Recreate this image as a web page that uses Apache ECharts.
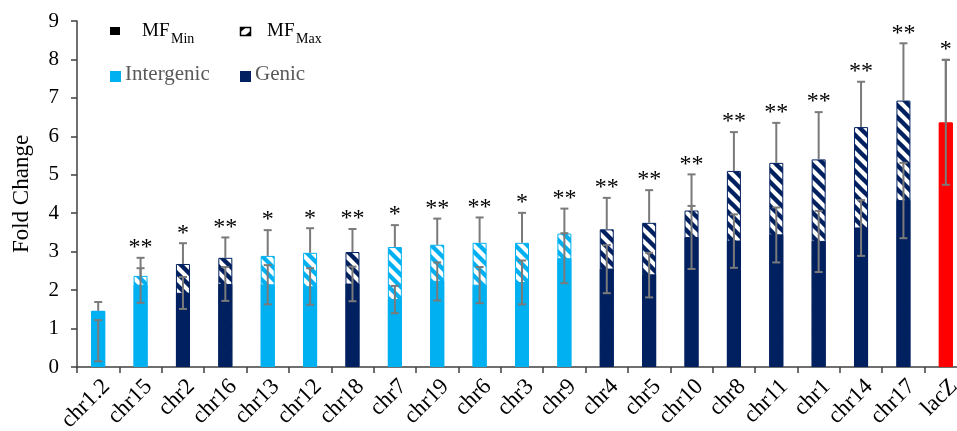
<!DOCTYPE html>
<html>
<head>
<meta charset="utf-8">
<script src="https://cdn.jsdelivr.net/npm/echarts@6/dist/echarts.min.js"></script>
<style>
  html, body { margin: 0; padding: 0; background: #fff; }
  #chart { width: 957px; height: 431px; }
</style>
</head>
<body>
<div id="chart"></div>
<script>
// Insertion sites, ordered by mean fold change
const categories = ['chr1.2','chr15','chr2','chr16','chr13','chr12','chr18','chr7','chr19','chr6','chr3','chr9','chr4','chr5','chr10','chr8','chr11','chr1','chr14','chr17','lacZ'];
const siteType = ['Intergenic','Intergenic','Genic','Genic','Intergenic','Intergenic','Genic','Intergenic','Intergenic','Intergenic','Intergenic','Intergenic','Genic','Genic','Genic','Genic','Genic','Genic','Genic','Genic','Control'];

// Fold change at maximal and minimal MF
const mfMax = [1.46, 2.37, 2.68, 2.84, 2.89, 2.97, 2.99, 3.12, 3.18, 3.23, 3.23, 3.47, 3.58, 3.75, 4.07, 5.10, 5.31, 5.40, 6.24, 6.93, 6.36];
const mfMin = [1.46, 2.14, 1.93, 2.16, 2.15, 2.10, 2.17, 1.77, 2.24, 2.14, 2.21, 2.83, 2.56, 2.41, 3.38, 3.29, 3.45, 3.28, 3.63, 4.34, 6.36];

// Error bars: upper limit of MF_Max, and range around MF_Min
const mfMaxUpper = [1.69, 2.84, 3.22, 3.37, 3.56, 3.61, 3.59, 3.69, 3.86, 3.89, 4.01, 4.12, 4.40, 4.60, 5.01, 6.11, 6.35, 6.63, 7.42, 8.42, 7.99];
const mfMinLower = [0.15, 1.67, 1.51, 1.72, 1.63, 1.62, 1.71, 1.40, 1.73, 1.66, 1.63, 2.18, 1.92, 1.81, 2.55, 2.58, 2.72, 2.47, 2.89, 3.35, 4.74];
const mfMinUpper = [1.22, 2.57, 2.34, 2.60, 2.65, 2.57, 2.61, 2.11, 2.72, 2.60, 2.77, 3.48, 3.17, 2.97, 4.19, 3.97, 4.15, 4.06, 4.34, 5.31, 7.99];

// Significance marks
const significance = ['', '**', '*', '**', '*', '*', '**', '*', '**', '**', '*', '**', '**', '**', '**', '**', '**', '**', '**', '**', '*'];

const yTicks = [0, 1, 2, 3, 4, 5, 6, 7, 8, 9];

const COLORS = { Intergenic: '#00B0F0', Genic: '#002060', Control: '#FF0000' };
const SERIF = "'Liberation Serif', 'Times New Roman', serif";

// Diagonal stripe tile used for the hatched (MF_Max) part of each bar
function stripeTile(bg, fg, size, lw) {
  const c = document.createElement('canvas');
  c.width = size; c.height = size;
  const ctx = c.getContext('2d');
  ctx.fillStyle = bg;
  ctx.fillRect(0, 0, size, size);
  ctx.strokeStyle = fg;
  ctx.lineWidth = lw;
  ctx.lineCap = 'square';
  for (let k = -1; k <= 1; k++) {
    ctx.beginPath();
    ctx.moveTo(k * size, 0);
    ctx.lineTo(k * size + size, size);
    ctx.stroke();
  }
  return c;
}
const hatchFill = {
  Intergenic: { image: stripeTile('#00B0F0', '#ffffff', 12, 4.2), repeat: 'repeat' },
  Genic: { image: stripeTile('#ffffff', '#002060', 12, 4.4), repeat: 'repeat' },
  Control: COLORS.Control
};

const maxData = mfMax.map((v, i) => ({
  value: v,
  itemStyle: { color: hatchFill[siteType[i]], borderColor: COLORS[siteType[i]], borderWidth: 1 }
}));
const minData = mfMin.map((v, i) => ({
  value: v,
  itemStyle: { color: COLORS[siteType[i]], borderColor: COLORS[siteType[i]], borderWidth: 1 }
}));
const errData = categories.map((c, i) => [i, mfMax[i], mfMaxUpper[i], mfMinLower[i], mfMinUpper[i]]);

const ERR_COLOR = '#7a7a7a';
function renderErr(params, api) {
  const i = api.value(0);
  const x = api.coord([i, 0])[0];
  const yBar = api.coord([i, api.value(1)])[1];
  const yTop = api.coord([i, api.value(2)])[1];
  const yLo = api.coord([i, api.value(3)])[1];
  const yHi = api.coord([i, api.value(4)])[1];
  const cap = 4;
  const ls = { stroke: ERR_COLOR, lineWidth: 2 };
  const seg = (x1, y1, x2, y2) => ({ type: 'line', shape: { x1, y1, x2, y2 }, style: ls });
  return {
    type: 'group',
    children: [
      seg(x, yBar, x, yTop),
      seg(x - cap, yTop, x + cap, yTop),
      seg(x, yLo, x, yHi),
      seg(x - cap, yLo, x + cap, yLo),
      seg(x - cap, yHi, x + cap, yHi),
      {
        type: 'text',
        style: {
          x: x, y: yTop - 10,
          text: significance[i],
          fill: '#000',
          font: '24px ' + SERIF,
          align: 'center',
          verticalAlign: 'middle'
        }
      }
    ]
  };
}

const chart = echarts.init(document.getElementById('chart'), null, { renderer: 'canvas' });

const legendGraphics = [
  { type: 'rect', shape: { x: 110, y: 27, width: 10, height: 8 }, style: { fill: '#000' } },
  { type: 'text', style: { x: 142, y: 41, text: 'MF', font: '19px ' + SERIF, fill: '#000', verticalAlign: 'bottom' } },
  { type: 'text', style: { x: 171, y: 46, text: 'Min', font: '14px ' + SERIF, fill: '#000', verticalAlign: 'bottom' } },
  { type: 'rect', shape: { x: 240.5, y: 27.5, width: 10, height: 8 }, style: { fill: '#fff', stroke: '#000', lineWidth: 1.5 } },
  { type: 'polygon', shape: { points: [[240.5, 27.5], [246, 27.5], [240.5, 32]] }, style: { fill: '#000' } },
  { type: 'polygon', shape: { points: [[250.5, 31], [250.5, 35.5], [245, 35.5]] }, style: { fill: '#000' } },
  { type: 'text', style: { x: 267, y: 41, text: 'MF', font: '19px ' + SERIF, fill: '#000', verticalAlign: 'bottom' } },
  { type: 'text', style: { x: 296, y: 46, text: 'Max', font: '14px ' + SERIF, fill: '#000', verticalAlign: 'bottom' } },
  { type: 'rect', shape: { x: 110, y: 71, width: 11, height: 11 }, style: { fill: COLORS.Intergenic } },
  { type: 'text', style: { x: 125, y: 85, text: 'Intergenic', font: '21px ' + SERIF, fill: '#595959', verticalAlign: 'bottom' } },
  { type: 'rect', shape: { x: 240, y: 71, width: 11, height: 11 }, style: { fill: COLORS.Genic } },
  { type: 'text', style: { x: 255, y: 85, text: 'Genic', font: '21px ' + SERIF, fill: '#595959', verticalAlign: 'bottom' } }
];

chart.setOption({
  animation: false,
  backgroundColor: '#fff',
  grid: { left: 77, width: 890, top: 21, bottom: 64, containLabel: false, outerBoundsMode: 'none' },
  xAxis: {
    type: 'category',
    data: categories,
    axisLine: { lineStyle: { color: '#404040', width: 1.5 } },
    axisTick: { show: true, length: 6, lineStyle: { color: '#404040', width: 1.5 } },
    axisLabel: {
      rotate: 45, margin: 8, interval: 0, verticalAlign: 'top',
      fontFamily: SERIF, fontSize: 23, color: '#000'
    },
    splitLine: { show: false }
  },
  yAxis: {
    type: 'value',
    min: yTicks[0], max: yTicks[yTicks.length - 1], interval: 1,
    name: 'Fold Change',
    nameLocation: 'middle',
    nameGap: 44,
    nameTextStyle: { fontFamily: SERIF, fontSize: 23, color: '#000' },
    axisLine: { show: true, lineStyle: { color: '#404040', width: 1.5 } },
    axisTick: { show: true, length: 6, lineStyle: { color: '#404040', width: 1.5 } },
    axisLabel: { margin: 18, fontFamily: SERIF, fontSize: 21, color: '#000' },
    splitLine: { show: false }
  },
  series: [
    {
      name: 'MF_Max', type: 'bar', barWidth: 14, barGap: '-100%',
      data: maxData, z: 2
    },
    {
      name: 'MF_Min', type: 'bar', barWidth: 14, barGap: '-100%',
      data: minData, z: 3
    },
    {
      name: 'error', type: 'custom', renderItem: renderErr,
      data: errData, encode: { x: 0, y: [1, 2, 3, 4] }, z: 4, silent: true
    }
  ],
  graphic: legendGraphics
});
</script>
</body>
</html>
